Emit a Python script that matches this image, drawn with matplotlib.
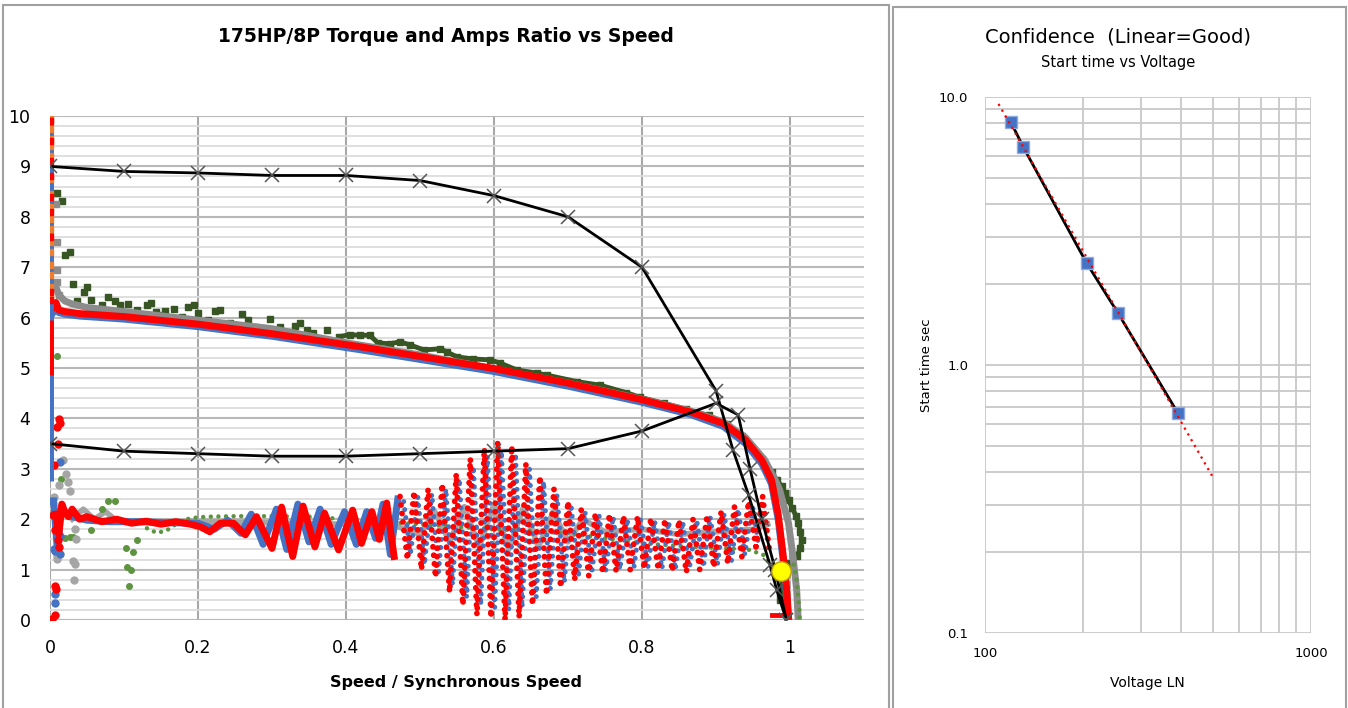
import matplotlib
matplotlib.use("Agg")
import matplotlib.pyplot as plt
import numpy as np
from matplotlib.patches import Rectangle
from matplotlib.ticker import MultipleLocator, LogLocator, NullFormatter

BLUE = "#4472C4"
ORANGE = "#ED7D31"
RED = "#FF0000"
GRAY = "#A5A5A5"
MIDGRAY = "#8C8C8C"
DKGREEN = "#375623"
GREEN = "#5E9440"

# --- left chart: model curves (black, x markers)
SPEED_MODEL_A = [0.0, 0.1, 0.2, 0.3, 0.4, 0.5, 0.6, 0.7, 0.8, 0.9, 0.923, 0.944, 0.973, 0.982, 0.995]
AMPS_MODEL = [9.0, 8.9, 8.87, 8.82, 8.82, 8.72, 8.42, 8.0, 7.0, 4.55, 3.37, 2.48, 1.09, 0.6, 0.0]
SPEED_MODEL_B = [0.0, 0.1, 0.2, 0.3, 0.4, 0.5, 0.6, 0.7, 0.8, 0.9, 0.93, 0.946, 0.962, 0.98, 0.995]
TORQUE_MODEL = [3.5, 3.35, 3.3, 3.25, 3.25, 3.3, 3.35, 3.4, 3.75, 4.3, 4.07, 3.0, 2.0, 1.0, 0.0]

# --- measured amps ratio (upper group)
RED_HI_SPEED = [0.004, 0.008, 0.012, 0.02, 0.04, 0.07, 0.1, 0.2, 0.3, 0.42, 0.5, 0.6, 0.7, 0.8,
                0.865, 0.91, 0.94, 0.962, 0.975, 0.984, 0.991, 0.9955, 0.998]
RED_HI = [6.2, 6.3, 6.15, 6.12, 6.08, 6.05, 6.02, 5.87, 5.68, 5.42, 5.23, 4.99, 4.7, 4.37,
          4.13, 3.9, 3.57, 3.17, 2.78, 2.1, 1.26, 0.6, 0.07]
BLUE_HI = [6.1, 6.2, 6.1, 6.07, 6.03, 6.0, 5.97, 5.82, 5.63, 5.36, 5.17, 4.93, 4.64, 4.32,
           4.08, 3.84, 3.5, 3.1, 2.7, 2.0, 1.15, 0.5, 0.0]
GRAY_HI_SPEED = [0.008, 0.012, 0.02, 0.03, 0.05, 0.1, 0.2, 0.3, 0.4, 0.5, 0.6, 0.7, 0.8, 0.865,
                 0.91, 0.94, 0.966, 0.98, 0.986, 0.998, 1.004, 1.009, 1.011]
GRAY_HI = [6.6, 6.45, 6.33, 6.27, 6.2, 6.12, 5.95, 5.78, 5.5, 5.26, 4.98, 4.7, 4.38, 4.15,
           3.93, 3.62, 3.17, 2.78, 2.58, 1.92, 1.26, 0.6, 0.03]
GRAY_SQ_SPEED = [0.008, 0.009, 0.009, 0.01, 0.012]
GRAY_SQ = [8.25, 7.5, 6.95, 6.7, 6.45]

DKGREEN_SPEED = [0.009, 0.016, 0.02, 0.027, 0.031, 0.036, 0.046, 0.05, 0.056, 0.07,
                 0.079, 0.088, 0.095, 0.105, 0.117, 0.131, 0.137, 0.143, 0.149, 0.155,
                 0.167, 0.178, 0.187, 0.194, 0.2, 0.214, 0.223, 0.23, 0.243, 0.259,
                 0.268, 0.277, 0.297, 0.311, 0.32, 0.331, 0.338, 0.347, 0.356, 0.374,
                 0.39, 0.405, 0.419, 0.432, 0.443, 0.459, 0.473, 0.486, 0.505, 0.527,
                 0.536, 0.55, 0.572, 0.595, 0.608, 0.631, 0.658, 0.671, 0.712, 0.743,
                 0.779, 0.797, 0.83, 0.86, 0.89, 0.915, 0.935, 0.952, 0.962, 0.968,
                 0.975, 0.982, 0.989, 0.993, 0.998, 1.003, 1.008, 1.011, 1.014, 1.016,
                 1.014, 1.009, 1.0, 0.993, 0.99, 0.989, 0.987, 0.986]
DKGREEN_AMPS = [8.47, 8.31, 7.24, 7.3, 6.67, 6.32, 6.51, 6.61, 6.35, 6.25,
                6.4, 6.32, 6.25, 6.27, 6.15, 6.25, 6.28, 6.12, 6.05, 6.14,
                6.18, 6.02, 6.22, 6.25, 6.09, 5.95, 6.14, 6.16, 5.89, 6.07,
                5.95, 5.81, 5.97, 5.82, 5.72, 5.83, 5.9, 5.75, 5.69, 5.75,
                5.62, 5.66, 5.65, 5.65, 5.5, 5.48, 5.52, 5.46, 5.36, 5.38,
                5.32, 5.22, 5.18, 5.16, 5.1, 4.96, 4.9, 4.86, 4.73, 4.66,
                4.51, 4.42, 4.3, 4.18, 4.06, 3.88, 3.65, 3.38, 3.2, 3.04,
                2.94, 2.78, 2.65, 2.52, 2.38, 2.22, 2.07, 1.92, 1.75, 1.59,
                1.42, 1.26, 1.13, 0.99, 0.8, 0.66, 0.52, 0.4]

# --- measured torque ratio (lower group)
RED_LO_SPEED = [0.008, 0.012, 0.016, 0.02, 0.025, 0.03, 0.04, 0.05, 0.07, 0.09,
                0.11, 0.13, 0.15, 0.17, 0.19, 0.203, 0.216, 0.23, 0.248, 0.264,
                0.279, 0.3, 0.313, 0.328, 0.342, 0.358, 0.371, 0.39, 0.409, 0.421,
                0.435, 0.445, 0.455, 0.465]
RED_LO = [2.1, 1.7, 2.3, 2.15, 2.05, 2.2, 2.0, 2.05, 1.95, 2.0,
          1.92, 1.96, 1.9, 1.95, 1.9, 1.85, 1.75, 1.92, 1.92, 1.69,
          2.05, 1.42, 2.24, 1.26, 2.26, 1.45, 2.12, 1.39, 2.18, 1.52,
          2.15, 1.6, 2.32, 1.26]
BLUE_LO_SPEED = [0.005, 0.01, 0.015, 0.02, 0.03, 0.05, 0.08, 0.12, 0.16, 0.2,
                 0.222, 0.24, 0.258, 0.272, 0.288, 0.306, 0.32, 0.335, 0.35, 0.365,
                 0.38, 0.398, 0.414, 0.428, 0.44, 0.45, 0.46, 0.47]
BLUE_LO = [2.36, 1.37, 2.2, 2.1, 2.05, 1.98, 1.95, 1.95, 1.93, 1.92,
           1.8, 1.98, 1.72, 2.1, 1.5, 2.2, 1.4, 2.3, 1.55, 2.2,
           1.5, 2.15, 1.5, 2.15, 1.62, 2.3, 1.3, 2.4]

RED_CLOUD_SPEED = [0.473, 0.483, 0.492, 0.502, 0.511, 0.521, 0.530, 0.540, 0.549, 0.558,
                   0.568, 0.577, 0.587, 0.596, 0.605, 0.615, 0.624, 0.634, 0.643, 0.652,
                   0.662, 0.671, 0.681, 0.690, 0.700, 0.709, 0.718, 0.728, 0.737, 0.747,
                   0.756, 0.765, 0.775, 0.784, 0.794, 0.803, 0.812, 0.822, 0.831, 0.841,
                   0.850, 0.860, 0.869, 0.878, 0.888, 0.897, 0.907, 0.916, 0.925, 0.935,
                   0.944, 0.954, 0.963, 0.972]
RED_CLOUD = [2.45, 1.2, 2.55, 1.0, 2.6, 0.85, 2.7, 0.55, 2.9, 0.3,
             3.2, 0.1, 3.4, 0.05, 3.54, 0.0, 3.45, 0.05, 3.1, 0.3,
             2.85, 0.5, 2.6, 0.65, 2.35, 0.8, 2.2, 0.88, 2.12, 0.93,
             2.1, 0.97, 2.06, 1.0, 2.05, 1.02, 2.02, 1.0, 2.0, 0.97,
             1.98, 0.95, 2.0, 1.0, 2.08, 1.05, 2.15, 1.12, 2.25, 1.25,
             2.35, 1.45, 2.45, 1.4]
BLUE_CLOUD_SPEED = [0.478, 0.487, 0.497, 0.506, 0.516, 0.525, 0.535, 0.544, 0.553, 0.563,
                    0.572, 0.582, 0.591, 0.601, 0.610, 0.620, 0.629, 0.638, 0.648, 0.657,
                    0.667, 0.676, 0.685, 0.695, 0.704, 0.714, 0.723, 0.732, 0.742, 0.751,
                    0.761, 0.770, 0.780, 0.789, 0.798, 0.808, 0.817, 0.827, 0.836, 0.845,
                    0.855, 0.864, 0.874, 0.883, 0.892, 0.902, 0.911, 0.921, 0.930, 0.939,
                    0.949, 0.958]
BLUE_CLOUD = [2.35, 1.3, 2.45, 1.1, 2.5, 0.95, 2.6, 0.7, 2.8, 0.45,
              3.05, 0.3, 3.25, 0.25, 3.35, 0.2, 3.3, 0.25, 3.0, 0.45,
              2.75, 0.6, 2.5, 0.75, 2.3, 0.85, 2.15, 0.92, 2.08, 0.97,
              2.05, 1.0, 2.0, 1.03, 2.0, 1.05, 1.97, 1.02, 1.95, 1.0,
              1.95, 1.02, 1.98, 1.05, 2.05, 1.1, 2.1, 1.18, 2.2, 1.3,
              2.3, 1.45]

GRAY_LO_SPEED = [0.03, 0.045, 0.06, 0.075, 0.09, 0.12, 0.2, 0.3, 0.4, 0.47,
                 0.5, 0.52, 0.54, 0.56, 0.58, 0.6, 0.62, 0.64, 0.66, 0.68,
                 0.7, 0.72, 0.75, 0.8, 0.85, 0.9, 0.95, 0.97]
GRAY_LO = [2.0, 2.2, 2.0, 2.15, 1.97, 1.95, 1.95, 1.93, 1.9, 1.85,
           1.7, 2.15, 1.55, 2.25, 1.45, 2.3, 1.4, 2.25, 1.45, 2.15,
           1.55, 2.0, 1.75, 1.8, 1.7, 1.75, 1.8, 1.9]

GREEN_LO_SPEED = [0.131, 0.144, 0.157, 0.17, 0.189, 0.212, 0.25, 0.3, 0.35, 0.4,
                  0.45, 0.5, 0.55, 0.6, 0.65, 0.7, 0.75, 0.8, 0.85, 0.9,
                  0.919, 0.946, 0.964, 0.975, 0.982]
GREEN_LO = [1.82, 1.73, 1.77, 1.9, 2.02, 2.05, 2.06, 2.06, 2.05, 2.0,
            1.95, 1.9, 1.85, 1.8, 1.77, 1.72, 1.62, 1.52, 1.47, 1.43,
            1.42, 1.39, 1.29, 1.09, 0.95]
GREEN_TAIL_SPEED = [1.005, 1.007, 1.009, 1.01, 1.011, 1.012, 1.013, 1.013]
GREEN_TAIL = [1.1, 0.95, 0.78, 0.62, 0.46, 0.3, 0.15, 0.03]

# scattered start-up samples near zero speed
GREEN_PTS_SPEED = [0.009, 0.015, 0.02, 0.027, 0.031, 0.056, 0.07, 0.079, 0.088, 0.103,
                   0.104, 0.107, 0.109, 0.112, 0.117]
GREEN_PTS = [5.23, 2.8, 1.63, 1.65, 1.65, 1.79, 2.2, 2.36, 2.36, 1.43,
             1.05, 0.67, 0.99, 1.34, 1.59]
GRAY_PTS_SPEED = [0.017, 0.022, 0.024, 0.027, 0.009, 0.01, 0.034, 0.035, 0.031, 0.034,
                  0.033, 0.005, 0.0126]
GRAY_PTS = [3.17, 2.9, 2.74, 2.56, 1.27, 1.22, 1.81, 1.6, 1.17, 1.11,
            0.79, 2.45, 2.68]
RED_PTS_SPEED = [0.007, 0.008, 0.003, 0.007, 0.005, 0.011, 0.012, 0.01, 0.013, 0.007,
                 0.011, 0.0126, 0.0045]
RED_PTS = [0.68, 0.62, 0.02, 0.1, 3.07, 3.49, 3.99, 3.83, 3.9, 1.79,
           1.59, 1.45, 2.08]
BLUE_PTS_SPEED = [0.003, 0.007, 0.007, 0.007, 0.013, 0.013, 0.013, 0.006]
BLUE_PTS = [2.36, 1.37, 0.51, 0.33, 1.67, 1.3, 3.14, 1.4]

BLUE_STACK = [2.75, 10.0]
RED_BAR = [4.86, 5.95]
ORANGE_STACK = [9.95, 9.75, 9.55, 9.4, 9.2, 8.75, 8.45, 8.2, 7.95, 7.75,
                7.5, 7.3, 7.05, 6.85, 6.6, 6.45]
RED_STACK = [9.9, 9.5, 9.1, 8.8, 8.4, 8.1, 7.6, 6.5, 6.35]
RED_TAIL_SPEED = [0.975, 0.997, 0.997]
RED_TAIL = [0.1, 0.1, 0.0]
OP_SPEED = [0.988]
OP_VALUE = [0.98]

# --- right chart
VOLTAGE_LN = [120, 131, 205, 256, 391]
START_TIME = [8.07, 6.51, 2.40, 1.56, 0.66]
TREND_RANGE = [110, 497]

fig = plt.figure(figsize=(13.48, 7.08), dpi=100)
W, H = 1348, 708


def fx(px):
    return px / W


def fy(py):
    return 1 - py / H


# panel borders
fig.add_artist(Rectangle((fx(3), -0.01), fx(886), fy(5) + 0.01, transform=fig.transFigure,
                         fill=False, edgecolor="#A0A0A0", lw=1.5))
fig.add_artist(Rectangle((fx(893), -0.01), fx(453), fy(7) + 0.01, transform=fig.transFigure,
                         fill=False, edgecolor="#A0A0A0", lw=1.5))

# ---------------- left chart
ax = fig.add_axes([fx(50), fy(620), fx(814), fy(116) - fy(620)])
ax.set_xlim(0, 1.1)
ax.set_ylim(0, 10)
ax.set_xticks([0, 0.2, 0.4, 0.6, 0.8, 1.0])
ax.set_xticklabels(["0", "0.2", "0.4", "0.6", "0.8", "1"])
ax.set_yticks(range(0, 11))
ax.yaxis.set_minor_locator(MultipleLocator(0.2))
ax.set_axisbelow(True)
ax.grid(which="major", axis="x", color="#A8A8A8", lw=1.5)
ax.grid(which="major", axis="y", color="#B8B8B8", lw=1.5)
ax.grid(which="minor", axis="y", color="#DCDCDC", lw=1.3)
ax.tick_params(which="both", length=0, labelsize=12.5)
ax.tick_params(axis="y", pad=14)
ax.tick_params(axis="x", pad=14)
for s in ax.spines.values():
    s.set_visible(False)

# lower group
ax.plot(GRAY_LO_SPEED, GRAY_LO, color=GRAY, lw=4, zorder=2)
ax.plot(GREEN_LO_SPEED, GREEN_LO, color=GREEN, lw=3.2, ls=(0, (0.01, 1.7)),
        dash_capstyle="round", zorder=2.5)
ax.plot(GREEN_TAIL_SPEED, GREEN_TAIL, color=GREEN, lw=3.2, ls=(0, (0.01, 1.7)),
        dash_capstyle="round", zorder=2.5)
ax.plot(GREEN_PTS_SPEED, GREEN_PTS, "o", color=GREEN, ms=4, zorder=2.5)
ax.plot(GRAY_PTS_SPEED, GRAY_PTS, "o", color=GRAY, ms=5, zorder=2.5)
ax.plot(BLUE_CLOUD_SPEED, BLUE_CLOUD, color=BLUE, lw=3.6, ls=(0, (0.01, 1.6)),
        dash_capstyle="round", zorder=3)
ax.plot(BLUE_LO_SPEED, BLUE_LO, color=BLUE, lw=5, zorder=3)
ax.plot(BLUE_PTS_SPEED, BLUE_PTS, "o", color=BLUE, ms=5, zorder=3)
ax.plot(RED_CLOUD_SPEED, RED_CLOUD, color=RED, lw=4.2, ls=(0, (0.01, 1.45)),
        dash_capstyle="round", zorder=3.5)
ax.plot(RED_LO_SPEED, RED_LO, color=RED, lw=5, zorder=3.5)
ax.plot(RED_PTS_SPEED, RED_PTS, "o", color=RED, ms=5, zorder=3.5)

# upper group
ax.plot(DKGREEN_SPEED, DKGREEN_AMPS, "s", color=DKGREEN, ms=4.5, zorder=2)
ax.plot(DKGREEN_SPEED[40:], DKGREEN_AMPS[40:], color=DKGREEN, lw=3.5, zorder=2)
ax.plot(GRAY_HI_SPEED, GRAY_HI, color=MIDGRAY, lw=5, zorder=2.2)
ax.plot(GRAY_SQ_SPEED, GRAY_SQ, "s", color=MIDGRAY, ms=5, zorder=2.2)
ax.plot(RED_HI_SPEED, BLUE_HI, color=BLUE, lw=5, zorder=2.4)
ax.plot(RED_HI_SPEED, RED_HI, color=RED, lw=5, zorder=3.6)

# stacked start-up samples at zero speed
ax.plot([0.0, 0.0], BLUE_STACK, color=BLUE, lw=5, solid_capstyle="butt", zorder=3.7)
ax.plot([0.0] * len(ORANGE_STACK), ORANGE_STACK, "s", color=ORANGE, ms=5, zorder=3.8)
ax.plot([0.0] * len(RED_STACK), RED_STACK, "s", color=RED, ms=4, zorder=3.9)
ax.plot([0.002, 0.002], RED_BAR, color=RED, lw=3.5, solid_capstyle="butt", zorder=3.9)
ax.plot(RED_TAIL_SPEED, RED_TAIL, color=RED, lw=3.5, zorder=3.9)

# model curves
for sp, val in ((SPEED_MODEL_A, AMPS_MODEL), (SPEED_MODEL_B, TORQUE_MODEL)):
    ax.plot(sp, val, color="black", lw=2, zorder=4)
    ax.plot(sp, val, "x", color="#555555", ms=10, mew=1.1, zorder=4.1)

ax.plot(OP_SPEED, OP_VALUE, "o", color="#FFFF00", mec="#B8A000", mew=1, ms=14, zorder=5)

fig.text(fx(446), fy(37), "175HP/8P Torque and Amps Ratio vs Speed", ha="center",
         va="center", fontsize=13.5, fontweight="bold")
fig.text(fx(456), fy(683), "Speed / Synchronous Speed", ha="center", va="center",
         fontsize=11.5, fontweight="bold")

# ---------------- right chart
ax2 = fig.add_axes([fx(985), fy(633), fx(326), fy(97) - fy(633)])
ax2.set_xscale("log")
ax2.set_yscale("log")
ax2.set_xlim(100, 1000)
ax2.set_ylim(0.1, 10)
ax2.set_xticks([100, 1000])
ax2.set_xticklabels(["100", "1000"])
ax2.set_yticks([0.1, 1, 10])
ax2.set_yticklabels(["0.1", "1.0", "10.0"])
ax2.xaxis.set_minor_locator(LogLocator(base=10, subs=np.arange(2, 10)))
ax2.yaxis.set_minor_locator(LogLocator(base=10, subs=np.arange(2, 10)))
ax2.xaxis.set_minor_formatter(NullFormatter())
ax2.yaxis.set_minor_formatter(NullFormatter())
ax2.set_axisbelow(True)
ax2.grid(which="both", color="#C8C8C8", lw=1.3)
ax2.tick_params(which="both", length=0, labelsize=9.5)
ax2.tick_params(axis="y", pad=12)
ax2.tick_params(axis="x", pad=10)
for s in ax2.spines.values():
    s.set_visible(False)

slope, icpt = np.polyfit(np.log10(VOLTAGE_LN), np.log10(START_TIME), 1)
trend_t = 10 ** (icpt + slope * np.log10(TREND_RANGE))
ax2.plot(TREND_RANGE, trend_t, color=RED, lw=1.6, ls=(0, (1, 2)), zorder=4)
ax2.plot(VOLTAGE_LN, START_TIME, color="black", lw=2, zorder=3)
ax2.plot(VOLTAGE_LN, START_TIME, "s", color=BLUE, mec="#8FAADC", mew=1, ms=9, zorder=3.5)

fig.text(fx(1118), fy(37), "Confidence  (Linear=Good)", ha="center", va="center", fontsize=14)
fig.text(fx(1118), fy(62), "Start time vs Voltage", ha="center", va="center", fontsize=10.5)
fig.text(fx(1147), fy(683), "Voltage LN", ha="center", va="center", fontsize=10)
fig.text(fx(927), fy(365), "Start time sec", ha="center", va="center", rotation=90,
         fontsize=9.5)

fig.savefig("out.png", dpi=100)
